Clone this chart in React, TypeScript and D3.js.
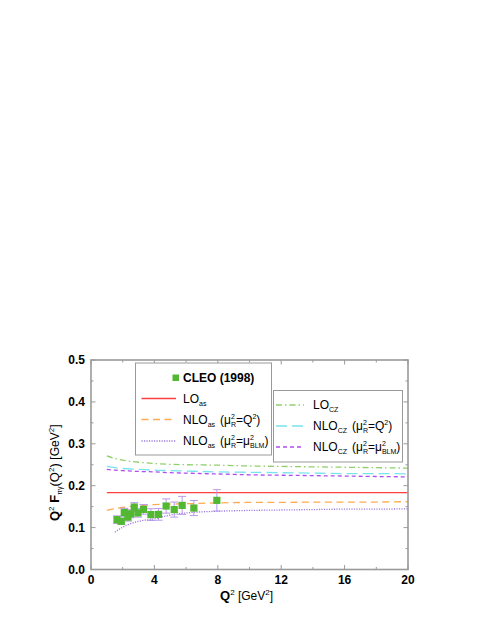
import * as d3 from "d3";

// CLEO (1998) data points
const cleoQ2: number[] = [1.64, 1.91, 2.1, 2.33, 2.5, 2.73, 2.96, 3.31, 3.78, 4.26, 4.74, 5.25, 5.75, 6.49, 7.94];
const cleoVal: number[] = [0.119, 0.115, 0.136, 0.125, 0.133, 0.149, 0.135, 0.1435, 0.131, 0.1316, 0.1515, 0.143, 0.153, 0.1467, 0.165];
const cleoErr: number[] = [0.009, 0.007, 0.01, 0.0095, 0.0095, 0.0105, 0.01, 0.0115, 0.014, 0.014, 0.017, 0.018, 0.0215, 0.018, 0.0255];

// theory curves
const q2Grid: number[] = [1, 1.5, 2, 3, 4, 5, 6, 8, 10, 12, 14, 16, 18, 20];
const loAs: number[] = [0.1835, 0.1835, 0.1835, 0.1835, 0.1835, 0.1835, 0.1835, 0.1835, 0.1835, 0.1835, 0.1835, 0.1835, 0.1835, 0.1835];
const nloAs: number[] = [0.141, 0.145, 0.148, 0.152, 0.155, 0.156, 0.157, 0.159, 0.16, 0.16, 0.161, 0.161, 0.161, 0.162];
const blmQ2: number[] = [1.5, 2, 3, 4, 5, 6, 8, 10, 12, 14, 16, 18, 20];
const nloAsBlm: number[] = [0.089, 0.101, 0.115, 0.121, 0.13, 0.135, 0.139, 0.141, 0.142, 0.143, 0.144, 0.144, 0.145];
const loCz: number[] = [0.271, 0.265, 0.261, 0.256, 0.253, 0.251, 0.25, 0.249, 0.247, 0.246, 0.245, 0.244, 0.243, 0.242];
const nloCz: number[] = [0.246, 0.243, 0.241, 0.239, 0.237, 0.236, 0.235, 0.233, 0.232, 0.231, 0.23, 0.229, 0.229, 0.228];
const nloCzBlm: number[] = [0.239, 0.237, 0.236, 0.234, 0.233, 0.231, 0.23, 0.228, 0.226, 0.225, 0.224, 0.223, 0.222, 0.221];

const xTicks: number[] = [0, 4, 8, 12, 16, 20];
const yTicks: number[] = [0, 0.1, 0.2, 0.3, 0.4, 0.5];

const FONT = "'Liberation Sans', Arial, Helvetica, sans-serif";

export default function App() {
  const left = 91, right = 408, top = 360, bottom = 569.5;
  const x = d3.scaleLinear().domain([0, 20]).range([left, right]);
  const y = d3.scaleLinear().domain([0, 0.5]).range([bottom, top]);

  const line = d3
    .line<[number, number]>()
    .x((d) => x(d[0]))
    .y((d) => y(d[1]))
    .curve(d3.curveMonotoneX);
  const path = (xs: number[], ys: number[]) => line(xs.map((q, i) => [q, ys[i]]) as [number, number][]) || "";

  const curves = [
    { xs: q2Grid, ys: loCz, color: "#8fd06a", dash: "6,3,1.5,3" },
    { xs: q2Grid, ys: nloCz, color: "#78e4ec", dash: "11,5" },
    { xs: q2Grid, ys: nloCzBlm, color: "#b24cf0", dash: "4,3" },
    { xs: q2Grid, ys: loAs, color: "#ff4040", dash: "" },
    { xs: q2Grid, ys: nloAs, color: "#ffaa50", dash: "7,4.5" },
    { xs: blmQ2, ys: nloAsBlm, color: "#9c7ae0", dash: "1.2,1.3" },
  ];

  const minorX = d3.range(0, 20.01, 2);
  const minorY = d3.range(0, 0.501, 0.05);
  const frame = "#9a9a9a";

  return (
    <svg
      width={491}
      height={635}
      style={{ position: "absolute", left: 0, top: 0, background: "#fff" }}
      fontFamily={FONT}
    >
      {/* ticks on all four sides */}
      <g stroke={frame} strokeWidth={1}>
        {minorX.map((v) => {
          const len = v % 4 === 0 ? 4.5 : 2.5;
          return (
            <g key={"tx" + v}>
              <line x1={x(v)} x2={x(v)} y1={bottom} y2={bottom - len} />
              <line x1={x(v)} x2={x(v)} y1={top} y2={top + len} />
            </g>
          );
        })}
        {minorY.map((v, i) => {
          const len = i % 2 === 0 ? 4.5 : 2.5;
          return (
            <g key={"ty" + i}>
              <line x1={left} x2={left + len} y1={y(v)} y2={y(v)} />
              <line x1={right} x2={right - len} y1={y(v)} y2={y(v)} />
            </g>
          );
        })}
      </g>

      {/* curves */}
      {curves.map((c, i) => (
        <path key={i} d={path(c.xs, c.ys)} fill="none" stroke={c.color} strokeWidth={1.3} strokeDasharray={c.dash} />
      ))}

      {/* CLEO error bars and points */}
      <g stroke="#b99ae8" strokeWidth={1}>
        {cleoQ2.map((q, i) => (
          <g key={"e" + i}>
            <line x1={x(q)} x2={x(q)} y1={y(cleoVal[i] - cleoErr[i])} y2={y(cleoVal[i] + cleoErr[i])} />
            <line x1={x(q) - 4} x2={x(q) + 4} y1={y(cleoVal[i] - cleoErr[i])} y2={y(cleoVal[i] - cleoErr[i])} />
            <line x1={x(q) - 4} x2={x(q) + 4} y1={y(cleoVal[i] + cleoErr[i])} y2={y(cleoVal[i] + cleoErr[i])} />
          </g>
        ))}
      </g>
      {cleoQ2.map((q, i) => (
        <rect key={"p" + i} x={x(q) - 3.6} y={y(cleoVal[i]) - 3.6} width={7.2} height={7.2} fill="#52b832" />
      ))}

      {/* frame */}
      <rect x={left} y={top} width={right - left} height={bottom - top} fill="none" stroke={frame} strokeWidth={1.6} />

      {/* tick labels */}
      {xTicks.map((v) => (
        <text key={"xl" + v} x={x(v)} y={584} textAnchor="middle" fontSize={12} fontWeight="bold">
          {v}
        </text>
      ))}
      {yTicks.map((v) => (
        <text key={"yl" + v} x={85} y={y(v) + 4.3} textAnchor="end" fontSize={12} fontWeight="bold">
          {v.toFixed(1)}
        </text>
      ))}

      {/* axis titles */}
      <text x={220} y={600} fontSize={13}>
        <tspan fontWeight="bold">Q</tspan>
        <tspan fontSize={8} dy={-5}>2</tspan>
        <tspan dy={5} fontSize={12}> [GeV</tspan>
        <tspan fontSize={8} dy={-5}>2</tspan>
        <tspan dy={5} fontSize={12}>]</tspan>
      </text>
      <text transform="translate(59,521) rotate(-90)" fontSize={13}>
        <tspan fontWeight="bold">Q</tspan>
        <tspan fontSize={8} dy={-5}>2</tspan>
        <tspan fontWeight="bold" dy={5}> F</tspan>
        <tspan fontSize={7} dy={3}>πγ</tspan>
        <tspan dy={-3}>(Q</tspan>
        <tspan fontSize={8} dy={-5}>2</tspan>
        <tspan dy={5}>) </tspan>
        <tspan fontSize={12}>[GeV</tspan>
        <tspan fontSize={8} dy={-5}>2</tspan>
        <tspan fontSize={12} dy={5}>]</tspan>
      </text>

      {/* legend 2 (CZ) */}
      <rect x={273.5} y={390.5} width={129} height={71.5} fill="#fff" stroke={frame} strokeWidth={1} />
      <line x1={276} x2={304} y1={405} y2={405} stroke="#8fd06a" strokeWidth={1.3} strokeDasharray="6,3,1.5,3" />
      <line x1={276} x2={304} y1={426} y2={426} stroke="#78e4ec" strokeWidth={1.3} strokeDasharray="11,5" />
      <line x1={276} x2={304} y1={447} y2={447} stroke="#b24cf0" strokeWidth={1.3} strokeDasharray="4,3" />
      <text x={313} y={409} fontSize={12}>
        LO<tspan fontSize={7} dy={3}>CZ</tspan>
      </text>
      <text x={313} y={430} fontSize={12}>
        NLO<tspan fontSize={7} dy={3}>CZ</tspan>
        <tspan dy={-3} dx={5}>(μ</tspan>
        <tspan fontSize={7} dy={-5}>2</tspan>
        <tspan fontSize={7} dx={-3.9} dy={8}>R</tspan>
        <tspan dy={-3}>=Q</tspan>
        <tspan fontSize={7} dy={-5}>2</tspan>
        <tspan dy={5}>)</tspan>
      </text>
      <text x={313} y={451} fontSize={12}>
        NLO<tspan fontSize={7} dy={3}>CZ</tspan>
        <tspan dy={-3} dx={5}>(μ</tspan>
        <tspan fontSize={7} dy={-5}>2</tspan>
        <tspan fontSize={7} dx={-3.9} dy={8}>R</tspan>
        <tspan dy={-3}>=μ</tspan>
        <tspan fontSize={7} dy={-5}>2</tspan>
        <tspan fontSize={7} dx={-3.9} dy={8}>BLM</tspan>
        <tspan dy={-3}>)</tspan>
      </text>

      {/* legend 1 (asymptotic) */}
      <rect x={135.5} y={363} width={136} height={92} fill="#fff" stroke={frame} strokeWidth={1} />
      <rect x={172.5} y={374.5} width={6.5} height={6.5} fill="#52b832" />
      <text x={183} y={382} fontSize={12} fontWeight="bold">
        CLEO (1998)
      </text>
      <line x1={141.5} x2={176} y1={398.5} y2={398.5} stroke="#ff4040" strokeWidth={1.3} />
      <line x1={141.5} x2={176} y1={419.5} y2={419.5} stroke="#ffaa50" strokeWidth={1.3} strokeDasharray="7,4.5" />
      <line x1={141.5} x2={176} y1={441} y2={441} stroke="#9c7ae0" strokeWidth={1.3} strokeDasharray="1.2,1.3" />
      <text x={183} y={403} fontSize={12}>
        LO<tspan fontSize={7} dy={3}>as</tspan>
      </text>
      <text x={183} y={424} fontSize={12}>
        NLO<tspan fontSize={7} dy={3}>as</tspan>
        <tspan dy={-3} dx={5}>(μ</tspan>
        <tspan fontSize={7} dy={-5}>2</tspan>
        <tspan fontSize={7} dx={-3.9} dy={8}>R</tspan>
        <tspan dy={-3}>=Q</tspan>
        <tspan fontSize={7} dy={-5}>2</tspan>
        <tspan dy={5}>)</tspan>
      </text>
      <text x={183} y={445} fontSize={12}>
        NLO<tspan fontSize={7} dy={3}>as</tspan>
        <tspan dy={-3} dx={5}>(μ</tspan>
        <tspan fontSize={7} dy={-5}>2</tspan>
        <tspan fontSize={7} dx={-3.9} dy={8}>R</tspan>
        <tspan dy={-3}>=μ</tspan>
        <tspan fontSize={7} dy={-5}>2</tspan>
        <tspan fontSize={7} dx={-3.9} dy={8}>BLM</tspan>
        <tspan dy={-3}>)</tspan>
      </text>
    </svg>
  );
}
